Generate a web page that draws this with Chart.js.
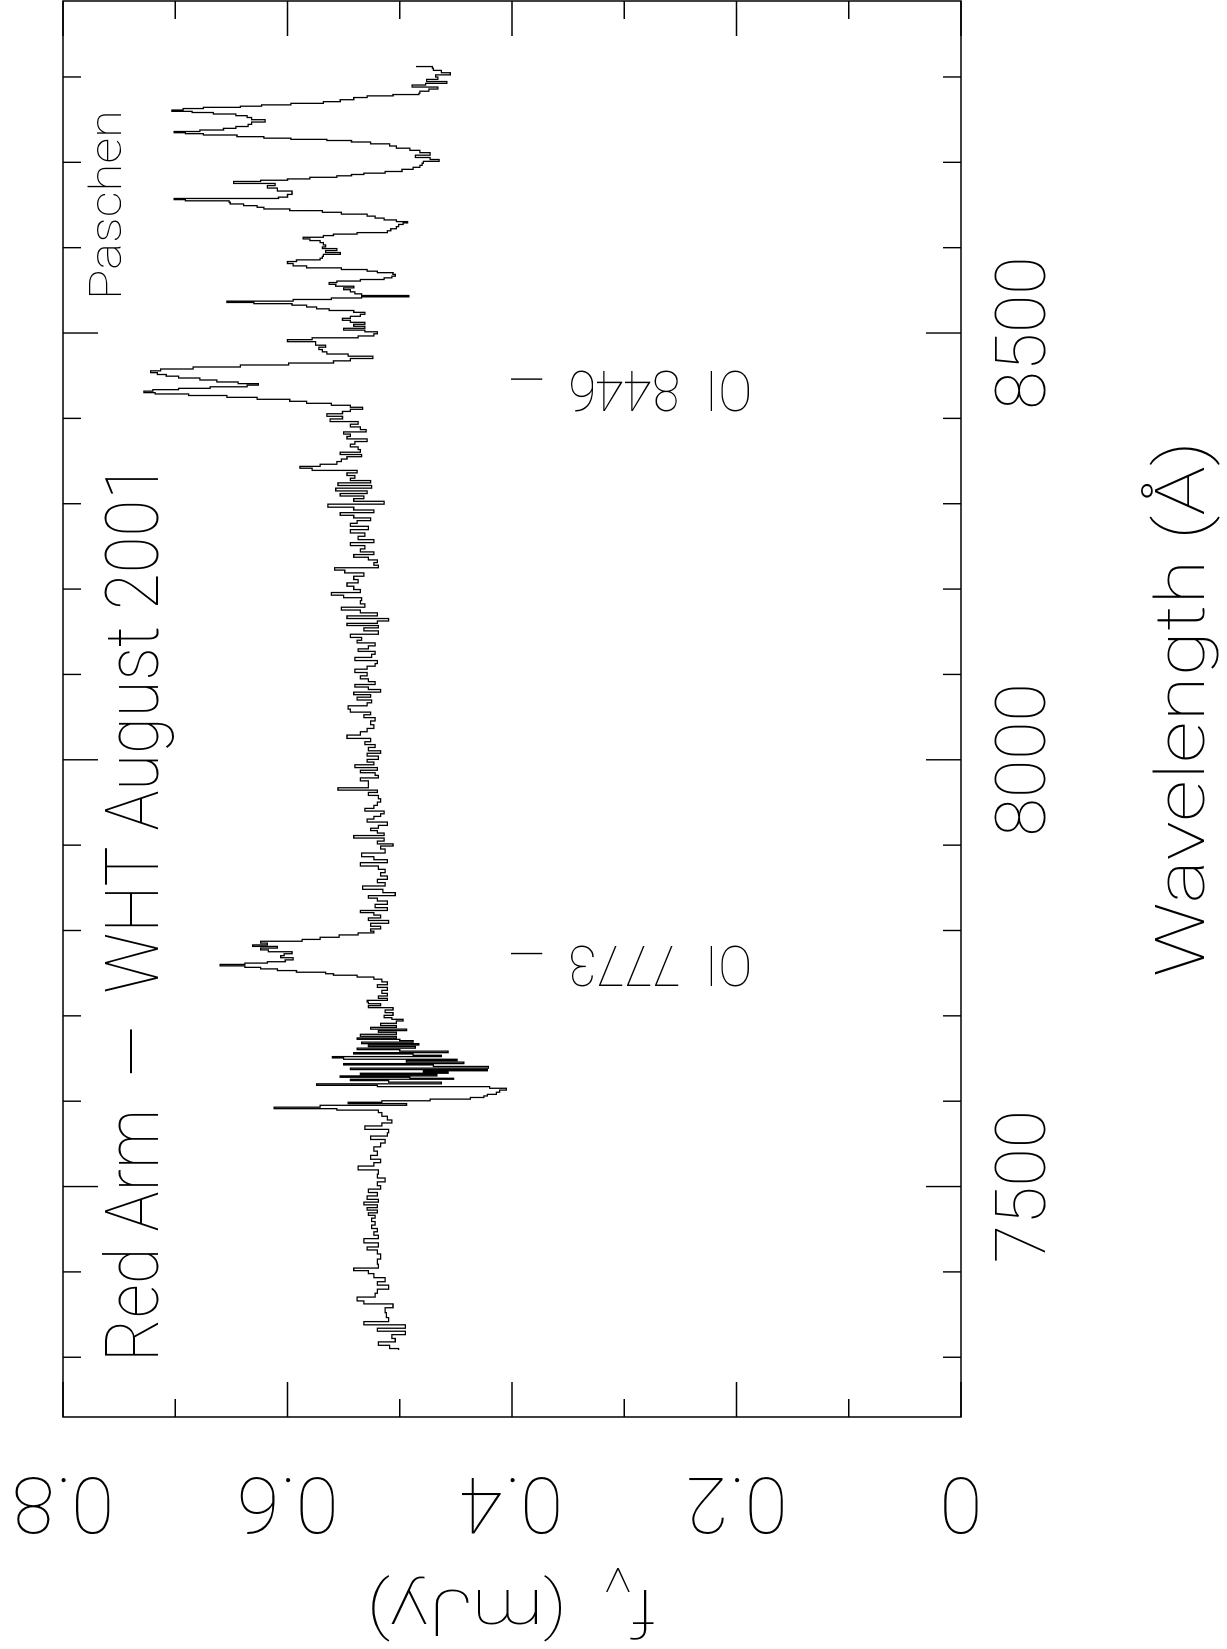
<!DOCTYPE html>
<html>
<head>
<meta charset="utf-8">
<script src="https://cdn.jsdelivr.net/npm/chart.js@4.4.1/dist/chart.umd.min.js"></script>
<style>
html,body{margin:0;padding:0;background:#fff;overflow:hidden;width:1227px;height:1649px;}
#c{position:absolute;left:0;top:0;transform-origin:0 0;transform:translate(0px,1649px) rotate(-90deg);background:#fff;}
</style>
</head>
<body>
<canvas id="c" width="1649" height="1227"></canvas>
<script>
// ---- data ----
const wavelength = [
7308.4,7312,7316,7320,7324,7329,7332,7336,7340,7343.5,7349.5,7355,7361,7364,7368,7373,7377,7382.5,7386.5,7390.5,7396,7400,7403,7406,7412,7418,7424,7427.4,7431,7437,7441,7445,7449,7452.7,
7457,7461,7465,7467.6,7470.8,7474,7476.6,7480.5,7483,7487,7491,7495,7499,7503,7508,7512,7517,7522,7526,7530,7534,7539,7544,7549,7553,7557.3,7561,7565,7569,7573,7576,7580,7584.7,7588.6,7590.5,7592,7594,7596.4,7598,7599.5,7601.5,7603.4,7605.3,7607,7609,7612,7614,7616.3,7617.8,7619.4,7621.3,7623.3,7625,7626.4,
7627.3,7628.8,7630.4,7632,7633.5,7635,7636.3,7637.8,7639.7,7641.7,7643.3,7644.8,7646.8,7648.4,7649.9,7651.5,7653,7654.6,7656.1,7657.7,7659.6,7661.2,7663.1,7665,7666.6,7668.2,7670.2,7671.7,7673.3,7674.9,7677.2,7679.6,7681.9,7683.5,7685.4,7687.7,7689.7,7692.8,7695.2,7696.7,7699,7702.2,7705.3,7708.4,7710.8,7713,7715.4,7717,7719.3,7721.7,7724.8,7727.9,7731.8,7734.9,7738,7741.6,7744.3,7746.6,7748.6,7750.1,7752.1,7754,7756,7757.6,7759.5,7761,7762.6,7764.2,7766.9,7769.3,7771.6,7773.9,7776.3,7778.2,7780.6,7782.1,7784.1,7786.4,7788.4,7790.7,7793.4,7796.2,7798.1,
7800.3,7803.4,7806.5,7810.4,7813.1,7816.3,7819.8,7822.1,7824.8,7828.7,7832.6,7836.5,7839.3,7842.4,7846.3,7850.2,7854.1,7858,7861.9,7865.8,7869.7,7873.6,7877.5,7881.4,7884.5,7888.4,7893.1,7897.8,7900.1,7902.8,7906.7,7909.9,7912.6,7915.7,7918.4,7921.2,7925.1,7929,7932.1,7935.2,7938.3,7941.5,7944.6,7948.5,7952.4,7956.3,7960.2,7963.3,7965.6,7968.8,
7973.2,7977.4,7980.1,7983.3,7986.4,7989.1,7992.6,7995.7,7998.9,8002,8006.7,8008.6,8012.5,8016.4,8019.2,8023.1,8027,8030.9,8034.8,8038.7,8043.4,8047.6,8051.2,8054.3,8057.4,8061.3,8065.2,8068.3,8071.8,8074.9,8077.7,8080.8,8083.9,8086.6,8089.8,8093.3,8096.4,8100.3,8104.2,8108.1,8111.2,8114.3,8118.2,8121.7,8125.6,8128.4,8131.5,8135.4,8138.5,8141.6,
8145.1,8149.1,8153,8156.1,8158.5,8161.2,8164,8167,8170.2,8174.1,8176.8,8180.7,8184.6,8188.5,8191.3,8194.4,8197.5,8201.4,8205.3,8209.2,8213.1,8217,8220.9,8223.6,8226.4,8229.5,8232.6,8235.7,8238.9,8242,8245.1,8249,8252.9,8256,8259.9,8263.8,8267.7,8271.6,8275.5,8278.6,8281.8,8284.9,8288,8291.1,8294.2,8297.7,8301.3,8304.4,8307.5,8310.6,8313.3,
8316.7,8319.8,8322.9,8326,8328.3,8331.5,8334.6,8337.7,8340.4,8342.8,8344.7,8347.8,8351,8353.7,8356.5,8358.8,8361.9,8365,8368.2,8371.3,8374.4,8377.5,8380.2,8383,8385.3,8388.4,8391.6,8394.7,8397.8,8400.9,8404,8406.8,8409.5,8411.8,8414.2,8416.5,8418.8,8421.2,8423.5,8425.8,8427.8,8429.4,8430.9,8432.9,8434.4,8436,8438,8439.9,8441.5,8443.8,8446.1,8448.5,8450.4,8452.4,8454.7,8456.7,8459,8461.4,8463.7,8466,8468.8,8471.5,8474.2,8476.6,8479.3,8482,8484.8,8486.7,
8488.7,8491,8493.4,8495.4,8497.7,8500.5,8502.4,8504.4,8506.7,8509.1,8511.4,8513.7,8516.1,8518.4,8520.8,8523.1,8525.4,8527.4,8529.3,8531.7,8533.6,8535.2,8536.4,8538.3,8540.3,8541.8,8543,8544.9,8546.9,8549.6,8551.9,8553.9,8555.8,8558.2,8560.1,8561.7,8563.7,8565.6,8567.6,8569.9,8571.5,8573.4,8575.4,8577.3,8580,8582.8,8584.7,8586.7,8588.6,8591,8593.3,8595.3,8598,8599.9,8601.9,8604.6,8607.3,8609.3,8611.2,8613.2,8615.1,8616.7,8618.6,8621,8623.3,8626,8628.4,8629.6,8631.5,8633.5,8635.8,8638.1,8640.5,8642.4,8644.4,8646.3,8648.3,8650.2,8652.2,8654.1,8655.7,8656.9,8658.4,
8660,8664.8,8667.9,8671.8,8673.7,8676.8,8678.4,8679.6,8681.5,8683.4,8685,8686.5,8688.1,8690.4,8693.2,8695.1,8697.8,8700.2,8702.1,8704.5,8706.8,8709.9,8712.7,8715.4,8717.7,8720.5,8722.8,8724.8,8726.3,8727.5,8729.1,8731,8733,8734.1,8735.3,8736.9,8738.8,8740.8,8743.1,8745.8,8748.6,8751.3,8753.7,8755.6,8757.6,8759.1,8760.3,8762.2,8763.8,8765,8766.5,8768.1,8770.1,8772,8774.7,8777.1,8778.6,8780.2,8781.7,8784.9,8786.8,8789.6,8791.5,8793.5,8795.8,8798.5,8801.3,8803.6,8806.3,8809.1,8811.4,8813
];
const flux = [
0.501,0.509,0.519,0.504,0.507,0.495,0.520,0.495,0.532,0.510,0.512,0.513,0.506,0.532,0.538,0.522,0.520,0.510,0.520,0.513,0.523,0.528,0.541,0.519,0.520,0.517,0.520,0.529,0.519,0.532,0.519,0.523,0.520,0.525,
0.522,0.525,0.522,0.528,0.520,0.529,0.520,0.532,0.519,0.529,0.520,0.528,0.517,0.520,0.513,0.520,0.519,0.537,0.523,0.517,0.526,0.520,0.523,0.517,0.513,0.526,0.511,0.510,0.531,0.516,0.507,0.511,0.516,0.519,0.556,0.612,0.571,0.494,0.546,0.516,0.473,0.437,0.425,0.422,0.414,0.411,0.405,0.420,0.520,0.574,0.463,0.510,0.544,0.452,
0.491,0.553,0.467,0.535,0.457,0.479,0.422,0.544,0.421,0.470,0.550,0.443,0.494,0.449,0.550,0.560,0.463,0.488,0.541,0.457,0.500,0.538,0.486,0.528,0.483,0.534,0.488,0.500,0.538,0.503,0.535,0.503,0.519,0.494,0.526,0.503,0.517,0.503,0.497,0.507,0.514,0.506,0.513,0.506,0.528,0.517,0.528,0.529,0.511,0.519,0.511,0.516,0.511,0.520,0.511,0.516,0.523,0.538,0.559,0.566,0.592,0.609,0.624,0.638,0.660,0.638,0.618,0.602,0.595,0.606,0.603,0.596,0.617,0.624,0.609,0.631,0.618,0.624,0.587,0.571,0.554,0.537,0.523,
0.526,0.517,0.526,0.510,0.528,0.517,0.523,0.535,0.511,0.522,0.511,0.520,0.528,0.504,0.515,0.533,0.513,0.520,0.511,0.517,0.513,0.519,0.535,0.511,0.523,0.534,0.513,0.517,0.506,0.520,0.514,0.541,0.514,0.520,0.526,0.519,0.511,0.529,0.523,0.517,0.514,0.531,0.523,0.520,0.517,0.519,0.528,0.520,0.555,0.528,
0.528,0.535,0.519,0.522,0.535,0.520,0.540,0.523,0.529,0.519,0.529,0.517,0.528,0.522,0.531,0.526,0.547,0.535,0.529,0.523,0.526,0.522,0.532,0.526,0.544,0.546,0.529,0.525,0.538,0.526,0.541,0.517,0.528,0.540,0.522,0.528,0.535,0.529,0.540,0.529,0.522,0.520,0.540,0.525,0.522,0.537,0.528,0.522,0.538,0.534,
0.544,0.519,0.532,0.519,0.547,0.520,0.510,0.547,0.520,0.535,0.552,0.531,0.535,0.534,0.550,0.561,0.535,0.541,0.547,0.537,0.541,0.532,0.549,0.558,0.519,0.523,0.520,0.528,0.541,0.523,0.535,0.531,0.544,0.523,0.537,0.531,0.544,0.528,0.544,0.538,0.526,0.541,0.553,0.523,0.541,0.564,0.514,0.541,0.532,0.553,0.529,
0.557,0.525,0.555,0.526,0.544,0.540,0.547,0.538,0.578,0.589,0.571,0.556,0.552,0.547,0.534,0.553,0.535,0.537,0.544,0.540,0.529,0.547,0.544,0.550,0.530,0.535,0.544,0.537,0.562,0.551,0.565,0.551,0.544,0.533,0.544,0.561,0.583,0.598,0.627,0.654,0.688,0.718,0.728,0.720,0.697,0.669,0.636,0.626,0.644,0.663,0.678,0.697,0.708,0.716,0.722,0.713,0.684,0.642,0.599,0.559,0.544,0.524,0.546,0.565,0.569,0.572,0.566,0.575,
0.575,0.600,0.578,0.537,0.523,0.520,0.531,0.550,0.531,0.541,0.531,0.544,0.551,0.544,0.535,0.531,0.541,0.563,0.574,0.583,0.596,0.630,0.654,0.595,0.561,0.534,0.492,0.534,0.540,0.544,0.550,0.541,0.557,0.563,0.556,0.535,0.514,0.507,0.504,0.506,0.520,0.529,0.552,0.583,0.595,0.600,0.592,0.571,0.569,0.568,0.553,0.566,0.556,0.569,0.566,0.568,0.571,0.580,0.586,0.568,0.559,0.538,0.511,0.508,0.503,0.501,0.497,0.493,0.503,0.514,0.522,0.529,0.552,0.569,0.598,0.621,0.627,0.639,0.651,0.652,0.691,0.701,0.608,
0.600,0.596,0.609,0.618,0.611,0.648,0.624,0.600,0.580,0.556,0.543,0.532,0.513,0.498,0.488,0.482,0.480,0.479,0.465,0.473,0.486,0.473,0.482,0.491,0.503,0.509,0.526,0.543,0.565,0.597,0.621,0.645,0.675,0.691,0.701,0.678,0.657,0.646,0.635,0.632,0.620,0.632,0.636,0.646,0.666,0.685,0.703,0.693,0.675,0.642,0.623,0.597,0.568,0.553,0.541,0.529,0.506,0.483,0.482,0.474,0.466,0.489,0.477,0.458,0.476,0.466,0.468,0.455,0.463,0.470,0.471,0.485
];
const wavelengthRange = [7230, 8889];
const fluxRange = [0, 0.8];
const wavelengthMajorTicks = [7500, 8000, 8500];
const wavelengthMinorTicks = [7300, 7400, 7600, 7700, 7800, 7900, 8100, 8200, 8300, 8400, 8600, 8700, 8800];
const fluxMajorTicks = [0, 0.2, 0.4, 0.6, 0.8];
const fluxMinorTicks = [0.1, 0.3, 0.5, 0.7];
const lineNames = ['OI  7773', 'OI  8446'];
const lineWavelengths = [7773, 8446];
const titleText = 'Red Arm  \u2014  WHT August 2001';
const noteText = 'Paschen';
const xTitleText = 'Wavelength (\u00C5)';

// ---- style ----
const FAMILY = "Roboto, 'DejaVu Sans', sans-serif";
const WEIGHT = '100';
function fontStr(size) { return WEIGHT + ' ' + size + 'px ' + FAMILY; }

function drawParts(ctx, parts, x, y, targetWidth, rotation, baseline) {
  ctx.save();
  ctx.translate(x, y);
  ctx.rotate(rotation);
  ctx.textBaseline = baseline || 'alphabetic';
  ctx.textAlign = 'left';
  let total = 0;
  parts.forEach(p => { ctx.font = fontStr(p.size); p.w = ctx.measureText(p.text).width; total += p.w; });
  const s = targetWidth / total;
  ctx.scale(s, 1);
  let cx = 0;
  parts.forEach(p => { ctx.font = fontStr(p.size); ctx.fillText(p.text, cx, p.dy || 0); cx += p.w; });
  ctx.restore();
}

const framePlugin = {
  id: 'frame',
  beforeDraw(chart) {
    const ctx = chart.ctx;
    ctx.save(); ctx.fillStyle = '#fff'; ctx.fillRect(0, 0, chart.width, chart.height); ctx.restore();
  },
  afterDraw(chart) {
    const ctx = chart.ctx, a = chart.chartArea;
    const xs = chart.scales.x, ys = chart.scales.y;
    ctx.save();
    ctx.strokeStyle = '#000';
    ctx.lineWidth = 1.5;
    ctx.strokeRect(a.left, a.top, a.right - a.left, a.bottom - a.top);
    ctx.lineWidth = 1.4;
    ctx.beginPath();
    const tickX = (v, len) => { const p = xs.getPixelForValue(v);
      ctx.moveTo(p, a.bottom); ctx.lineTo(p, a.bottom - len);
      ctx.moveTo(p, a.top); ctx.lineTo(p, a.top + len); };
    const tickY = (v, len) => { const p = ys.getPixelForValue(v);
      ctx.moveTo(a.left, p); ctx.lineTo(a.left + len, p);
      ctx.moveTo(a.right, p); ctx.lineTo(a.right - len, p); };
    wavelengthMajorTicks.forEach(v => tickX(v, 35));
    wavelengthMinorTicks.forEach(v => tickX(v, 18));
    fluxMajorTicks.forEach(v => tickY(v, 35));
    fluxMinorTicks.forEach(v => tickY(v, 18));
    // line markers
    lineWavelengths.forEach(w => { const p = xs.getPixelForValue(w);
      ctx.moveTo(p, ys.getPixelForValue(0.401)); ctx.lineTo(p, ys.getPixelForValue(0.373)); });
    ctx.stroke();
    ctx.fillStyle = '#000';
    // line labels (rotated, reading upward)
    lineWavelengths.forEach((w, i) => {
      const p = xs.getPixelForValue(w) - 6;
      const y0 = ys.getPixelForValue(0.186), y1 = ys.getPixelForValue(0.350);
      drawParts(ctx, [{text: lineNames[i], size: 55}], p, y0, y0 - y1, -Math.PI / 2, 'middle');
    });
    // title and note inside frame
    drawParts(ctx, [{text: titleText, size: 75}], a.left + 55, a.top + 95, 899, 0);
    drawParts(ctx, [{text: noteText, size: 45}], a.left + 1117, a.top + 58, 190, 0);
    // x-axis title
    const cxm = (a.left + a.right) / 2;
    drawParts(ctx, [{text: xTitleText, size: 68}], cxm - 268, 1204, 536, 0);
    // y-axis title f_nu (mJy)
    drawParts(ctx, [{text: 'f', size: 64}, {text: '\u03BD', size: 44, dy: 22}, {text: '  (mJy)', size: 64}],
      59, 656, 290, -Math.PI / 2);
    ctx.restore();
  }
};

new Chart(document.getElementById('c'), {
  type: 'line',
  data: {
    datasets: [{
      data: wavelength.map((w, i) => ({x: w, y: flux[i]})),
      borderColor: '#000',
      borderWidth: 1.3,
      pointRadius: 0,
      stepped: 'middle',
      fill: false
    }]
  },
  options: {
    responsive: false,
    animation: false,
    devicePixelRatio: 1,
    layout: {padding: {top: 63, right: 1, left: 0, bottom: 0}},
    plugins: {legend: {display: false}, tooltip: {enabled: false}},
    scales: {
      x: {
        type: 'linear', position: 'bottom',
        min: wavelengthRange[0], max: wavelengthRange[1],
        afterBuildTicks: ax => { ax.ticks = wavelengthMajorTicks.map(v => ({value: v})); },
        afterFit: ax => { ax.height = 266; ax.paddingLeft = 0; ax.paddingRight = 0; },
        grid: {display: false, drawTicks: false},
        border: {display: false},
        ticks: {
          font: {family: FAMILY, size: 70, weight: WEIGHT}, color: '#000',
          padding: 24, minRotation: 0, maxRotation: 0, autoSkip: false,
          callback: v => String(v)
        }
      },
      y: {
        type: 'linear', position: 'left',
        min: fluxRange[0], max: fluxRange[1],
        afterBuildTicks: ax => { ax.ticks = fluxMajorTicks.map(v => ({value: v})); },
        afterFit: ax => { ax.width = 232; ax.paddingTop = 0; ax.paddingBottom = 0; },
        grid: {display: false, drawTicks: false},
        border: {display: false},
        ticks: {
          font: {family: FAMILY, size: 78, weight: WEIGHT}, color: '#000',
          padding: 29, minRotation: 90, maxRotation: 90, crossAlign: 'center', autoSkip: false,
          callback: v => v === 0 ? '0' : v.toFixed(1)
        }
      }
    }
  },
  plugins: [framePlugin]
});
</script>
</body>
</html>
